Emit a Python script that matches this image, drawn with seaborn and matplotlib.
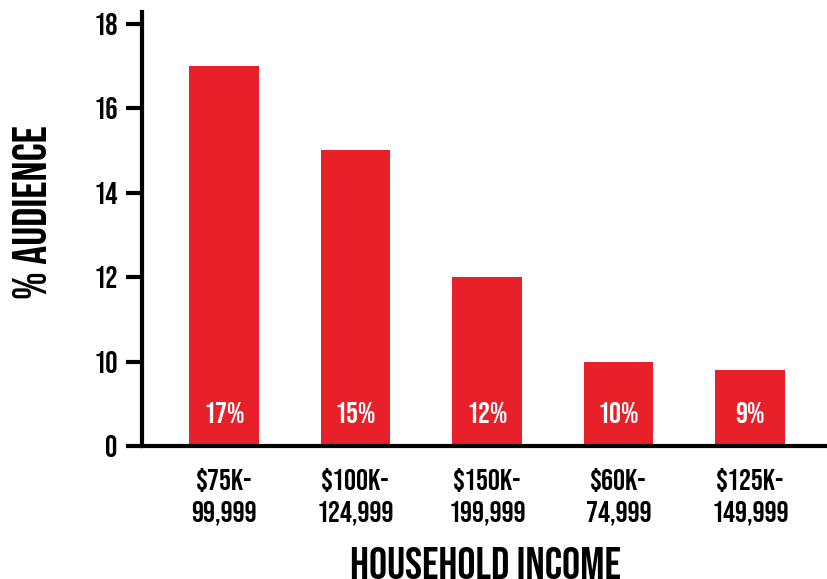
import numpy as np
import matplotlib
matplotlib.use("Agg")
import matplotlib.pyplot as plt
import matplotlib.transforms as mtransforms
from matplotlib import font_manager
import seaborn as sns

# Audience share by household income bracket
categories = ["\\$75K-\n99,999", "\\$100K-\n124,999", "\\$150K-\n199,999",
              "\\$60K-\n74,999", "\\$125K-\n149,999"]
audience_pct = [17, 15, 12, 10, 9]
bar_labels = ["17%", "15%", "12%", "10%", "9%"]
y_ticks = [0, 10, 12, 14, 16, 18]
y_tick_labels = ["0", "10", "12", "14", "16", "18"]

RED = "#E8202A"
INK = "black"

sns.set_theme(style="white")
available = {f.name for f in font_manager.fontManager.ttflist}
preferred = ["Bebas Neue", "League Gothic", "Oswald", "Fjalla One", "Antonio",
             "Liberation Sans Narrow", "DejaVu Sans"]
family = next(f for f in preferred if f in available)
plt.rcParams["font.family"] = [family, "DejaVu Sans"]
plt.rcParams["text.color"] = INK
plt.rcParams["axes.labelcolor"] = INK
plt.rcParams["xtick.color"] = INK
plt.rcParams["ytick.color"] = INK

fig = plt.figure(figsize=(8.28, 5.79), dpi=100)
ax = fig.add_axes([0.1715, 0.2297, 0.8285, 0.7496])


# Broken value axis: 0-10 compressed to the height of one 2-point step
def fwd(v):
    v = np.asarray(v, dtype=float)
    return np.where(v <= 10, v * 0.2, v - 8)


def inv(u):
    u = np.asarray(u, dtype=float)
    return np.where(u <= 2, u * 5, u + 8)


ax.set_yscale("function", functions=(fwd, inv))

sns.barplot(x=categories, y=audience_pct, color=RED, width=0.53,
            saturation=1, ax=ax, edgecolor="none")

ax.set_ylim(0, 18.28)
ax.set_xlim(-0.624, 4.593)
ax.set_yticks(y_ticks)
ax.set_yticklabels(y_tick_labels)
ax.minorticks_off()

# Value labels near the base of each bar
trans = mtransforms.blended_transform_factory(ax.transData, ax.transAxes)
for i, lab in enumerate(bar_labels):
    ax.annotate(lab, xy=(i, 0), xycoords=trans, xytext=(0, 24),
                textcoords="offset points", ha="center", va="center",
                color="white", fontsize=21.5)

for side in ("top", "right"):
    ax.spines[side].set_visible(False)
for side in ("left", "bottom"):
    ax.spines[side].set_linewidth(3)
    ax.spines[side].set_color(INK)

ax.tick_params(axis="y", which="major", direction="out", length=11.5, width=3,
               color=INK, pad=6, labelsize=22, left=True)
ax.tick_params(axis="x", length=0, pad=16, labelsize=21.5)
for t in ax.get_xticklabels():
    t.set_linespacing(1.4)

ax.set_xlabel("HOUSEHOLD INCOME", fontsize=32.5, labelpad=16)
ax.set_ylabel("% AUDIENCE", fontsize=34)
ax.yaxis.set_label_coords(-0.139, 0.539)
ax.grid(False)

fig.savefig("out.png", dpi=100, facecolor="white")
